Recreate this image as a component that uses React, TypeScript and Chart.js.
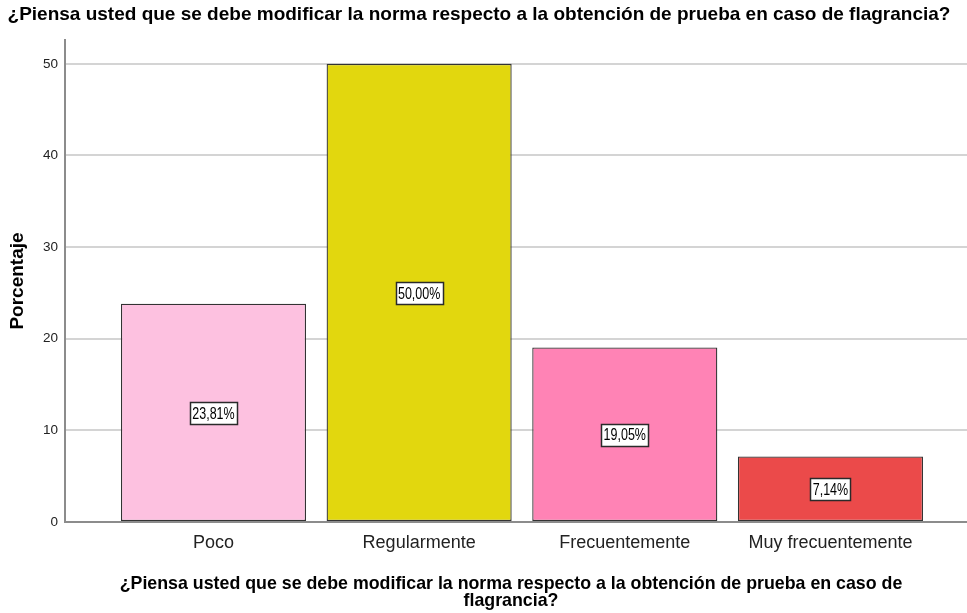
import React, { useEffect, useRef } from "react";
import { Chart, registerables } from "chart.js";

Chart.register(...registerables);

const categories = ["Poco", "Regularmente", "Frecuentemente", "Muy frecuentemente"];
const percentages = [23.81, 50.0, 19.05, 7.14];
const valueLabels = ["23,81%", "50,00%", "19,05%", "7,14%"];
const barColors = ["#FDC1E0", "#E2D70E", "#FF83B5", "#EB4A4A"];
const yTicks = [0, 10, 20, 30, 40, 50];
const chartTitle = "¿Piensa usted que se debe modificar la norma respecto a la obtención de prueba en caso de flagrancia?";
const xTitleLines = [
  "¿Piensa usted que se debe modificar la norma respecto a la obtención de prueba en caso de",
  "flagrancia?",
];
const yTitle = "Porcentaje";

const FONT = "'Liberation Sans', Arial, sans-serif";

const textPlugin = {
  id: "textPlugin",
  afterDatasetsDraw(chart: any) {
    const ctx = chart.ctx;
    const meta = chart.getDatasetMeta(0);
    const yScale = chart.scales.y;
    ctx.save();
    ctx.font = `12.5px ${FONT}`;
    ctx.textAlign = "center";
    ctx.textBaseline = "middle";
    meta.data.forEach((bar: any, i: number) => {
      const label = valueLabels[i];
      const cy = yScale.getPixelForValue(percentages[i] / 2);
      const w = Math.round(ctx.measureText(label).width + 5);
      const h = 22;
      const x0 = Math.round(bar.x - w / 2) + 0.5;
      const y0 = Math.round(cy - h / 2) + 0.5;
      ctx.fillStyle = "#ffffff";
      ctx.fillRect(x0, y0, w, h);
      ctx.strokeStyle = "#2a2a2a";
      ctx.lineWidth = 1.5;
      ctx.strokeRect(x0, y0, w, h);
      ctx.fillStyle = "#000000";
      ctx.save();
      ctx.translate(bar.x, cy + 1);
      ctx.scale(1, 1.35);
      ctx.fillText(label, 0, 0);
      ctx.restore();
    });
    ctx.restore();
  },
  afterDraw(chart: any) {
    const ctx = chart.ctx;
    const area = chart.chartArea;
    ctx.save();
    ctx.fillStyle = "#000000";
    ctx.textAlign = "center";
    ctx.textBaseline = "middle";
    ctx.font = `bold 19px ${FONT}`;
    ctx.fillText(chartTitle, 479, 15);
    ctx.font = `bold 17.8px ${FONT}`;
    const cx = (area.left + area.right) / 2 - 5;
    ctx.fillText(xTitleLines[0], cx, 584);
    ctx.fillText(xTitleLines[1], cx, 601);
    ctx.font = `bold 19px ${FONT}`;
    ctx.translate(18, 281);
    ctx.rotate(-Math.PI / 2);
    ctx.fillText(yTitle, 0, 0);
    ctx.restore();
  },
};

export default function App() {
  const canvasRef = useRef<HTMLCanvasElement | null>(null);

  useEffect(() => {
    document.body.style.margin = "0";
    const canvas = canvasRef.current;
    if (!canvas) return;
    const data = percentages.map((v, i) => ({ x: i, y: v }));
    const chart = new Chart(canvas, {
      type: "bar",
      data: {
        datasets: [
          {
            data: data as any,
            backgroundColor: barColors,
            borderColor: "#333333",
            borderWidth: 1.3,
            borderSkipped: false,
            barPercentage: 0.9,
            categoryPercentage: 1,
          },
        ],
      },
      options: {
        animation: false,
        responsive: false,
        maintainAspectRatio: false,
        layout: { padding: { top: 40, left: 0, right: 0, bottom: 0 } },
        plugins: {
          legend: { display: false },
          tooltip: { enabled: false },
          title: { display: false },
        },
        scales: {
          x: {
            type: "linear",
            min: -0.722,
            max: 3.664,
            offset: false,
            afterFit: (s: any) => {
              s.height = 91;
            },
            afterBuildTicks: (s: any) => {
              s.ticks = categories.map((_, i) => ({ value: i }));
            },
            grid: { display: false, drawTicks: false },
            border: { display: true, color: "#8c8c8c", width: 2 },
            ticks: {
              padding: 10,
              color: "#222222",
              font: { family: FONT, size: 18 },
              maxRotation: 0,
              autoSkip: false,
              callback: (v: any) => categories[v as number] ?? "",
            },
          },
          y: {
            min: 0,
            max: 52.6,
            afterFit: (s: any) => {
              s.width = 65;
            },
            afterBuildTicks: (s: any) => {
              s.ticks = yTicks.map((v) => ({ value: v }));
            },
            grid: { color: "#d4d4d4", lineWidth: 2, drawTicks: false },
            border: { display: true, color: "#8c8c8c", width: 2 },
            ticks: {
              padding: 7,
              color: "#222222",
              font: { family: FONT, size: 13.5 },
            },
          },
        },
      },
      plugins: [textPlugin],
    });
    return () => chart.destroy();
  }, []);

  return (
    <div style={{ width: 967, height: 613 }}>
      <canvas ref={canvasRef} width={967} height={613} style={{ width: 967, height: 613, display: "block" }} />
    </div>
  );
}
